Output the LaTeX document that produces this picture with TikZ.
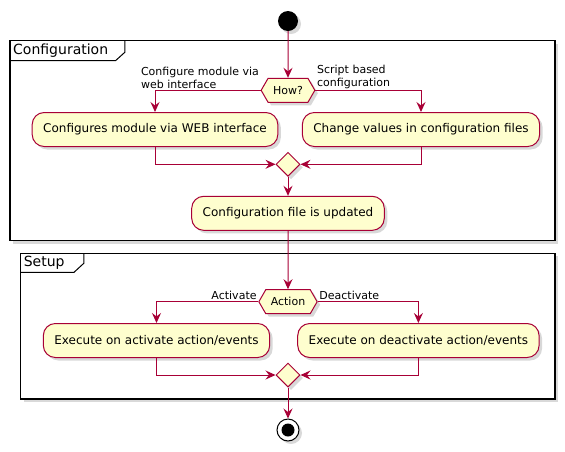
\documentclass[tikz,border=0pt]{standalone}
\usepackage{fontspec}
\setmainfont{DejaVu Sans}
\usetikzlibrary{arrows.meta,shapes.geometric,shapes.symbols,shadows}
\definecolor{umlred}{HTML}{A80036}
\definecolor{umlfill}{HTML}{FEFECE}

\begin{document}
\begin{tikzpicture}[x=1pt,y=-1pt,
  shadowed/.style={drop shadow={shadow xshift=3pt,shadow yshift=-3pt,opacity=0.3}},
  activity/.style={draw=umlred, fill=umlfill, line width=1pt, rounded corners=12pt,
    minimum height=34pt, inner xsep=11pt, font=\fontsize{12}{14}\selectfont, shadowed},
  choice/.style={signal, signal to=west and east, signal pointer angle=120, draw=umlred,
    fill=umlfill, line width=1pt, minimum height=24pt, inner xsep=5pt,
    font=\fontsize{11}{13}\selectfont, shadowed},
  merge/.style={diamond, draw=umlred, fill=umlfill, line width=1pt, minimum width=24pt,
    minimum height=24pt, inner sep=0pt, shadowed},
  flow/.style={draw=umlred, line width=1pt, -{Stealth[length=10pt,width=9pt,inset=3.5pt]}},
  guard/.style={font=\fontsize{11}{12.5}\selectfont, align=left, inner sep=1.5pt},
  umlframe/.style={draw=black, line width=1.5pt, fill=white, shadowed},
  frametitle/.style={font=\fontsize{14}{16}\selectfont, anchor=north west, inner sep=2pt}]

  \useasboundingbox (0,0) rectangle (565,451);

  % frames
  \draw [umlframe] (10,40.7) rectangle (555,240.7);
  \draw [line width=1pt] (10,60.7) -- (115.5,60.7) -- (124.8,52.3) -- (124.8,40.7);
  \node [frametitle] (cfgtitle) at (11,41.5) {Configuration};

  \draw [umlframe] (20.6,253.3) rectangle (555,399);
  \draw [line width=1pt] (20.6,272.3) -- (74,272.3) -- (83.8,263.3) -- (83.8,253.3);
  \node [frametitle] (setuptitle) at (21.6,254) {Setup};

  % activities
  \node [circle, fill=black, minimum size=20pt, inner sep=0pt, shadowed] (start) at (288,21) {};
  \node [choice] (how) at (288,90.3) {How?};
  \node [activity] (cfgweb) at (155,129.5) {Configures module via WEB interface};
  \node [activity] (cfgscript) at (421,129.5) {Change values in configuration files};
  \node [merge] (merge1) at (288,164.3) {};
  \node [activity] (cfgdone) at (288,213.3) {Configuration file is updated};

  \node [choice] (act) at (288,301.7) {Action};
  \node [activity] (exeon) at (156.5,340.5) {Execute on activate action/events};
  \node [activity] (exeoff) at (418.4,340.5) {Execute on deactivate action/events};
  \node [merge] (merge2) at (288,375) {};
  \node [circle, draw=black, line width=1pt, fill=white, minimum size=22pt, inner sep=0pt, shadowed] (stop) at (288,430) {};
  \fill (stop.center) circle (6.5);

  % flows
  \draw [flow] (start) -- (how);
  \draw [flow] (how.west) -| (cfgweb.north);
  \draw [flow] (how.east) -| (cfgscript.north);
  \draw [flow] (cfgweb.south) |- (merge1.west);
  \draw [flow] (cfgscript.south) |- (merge1.east);
  \draw [flow] (merge1) -- (cfgdone);
  \draw [flow] (cfgdone) -- (act);
  \draw [flow] (act.west) -| (exeon.north);
  \draw [flow] (act.east) -| (exeoff.north);
  \draw [flow] (exeon.south) |- (merge2.west);
  \draw [flow] (exeoff.south) |- (merge2.east);
  \draw [flow] (merge2) -- (stop);

  % guards
  \node [guard, anchor=south east] (lblweb) at (how.west) {Configure module via\\web interface};
  \node [guard, anchor=south west] (lblscript) at (how.east) {Script based\\configuration};
  \node [guard, anchor=south east] (lblon) at (act.west) {Activate};
  \node [guard, anchor=south west] (lbloff) at (act.east) {Deactivate};

\end{tikzpicture}
\end{document}
